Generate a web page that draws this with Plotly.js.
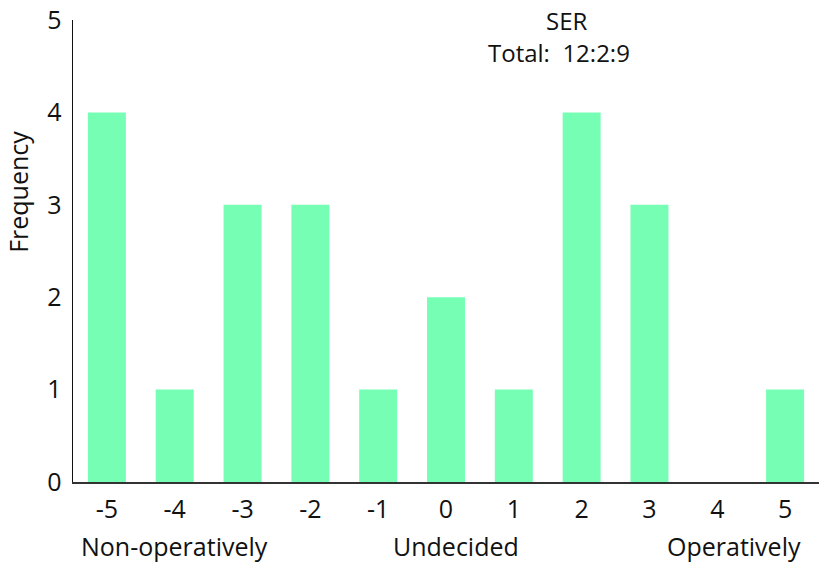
<!DOCTYPE html>
<html>
<head>
<meta charset="utf-8">
<script src="https://cdn.plot.ly/plotly-3.0.1.min.js"></script>
<style>html,body{margin:0;padding:0;background:#fff;}#chart{width:819px;height:564px;}</style>
</head>
<body>
<div id="chart"></div>
<script>
const scores = [-5, -4, -3, -2, -1, 0, 1, 2, 3, 4, 5];
const frequency = [4, 1, 3, 3, 1, 2, 1, 4, 3, 0, 1];
const tickLabels = ['-5', '-4', '-3', '-2', '-1', '0', '1', '2', '3', '4', '5'];
const groupLabels = ['Non-operatively', 'Undecided', 'Operatively'];
const groupPositions = [-4, 0.15, 4.25];
const titleText = 'SER';
const totalText = 'Total:  12:2:9';

const font = '"Open Sans", "DejaVu Sans", sans-serif';

const trace = {
  type: 'bar',
  x: scores,
  y: frequency,
  width: 0.56,
  marker: {color: 'rgb(118,255,180)', line: {width: 0}},
  hoverinfo: 'skip'
};

const annotations = [
  {x: 0.661, y: 1.0, xref: 'paper', yref: 'paper', text: titleText, showarrow: false,
   font: {family: font, size: 24, color: '#111'}, xanchor: 'center', yanchor: 'middle'},
  {x: 0.651, y: 0.929, xref: 'paper', yref: 'paper', text: totalText, showarrow: false,
   font: {family: font, size: 24, color: '#111'}, xanchor: 'center', yanchor: 'middle'},
  {x: -0.073, y: 0.627, xref: 'paper', yref: 'paper', text: 'Frequency', showarrow: false, textangle: -90,
   font: {family: font, size: 25, color: '#111'}, xanchor: 'center', yanchor: 'middle', borderpad: 0}
];
groupLabels.forEach((g, i) => {
  annotations.push({x: groupPositions[i], y: -0.138, xref: 'x', yref: 'paper', text: g, showarrow: false,
    font: {family: font, size: 25, color: '#111'}, xanchor: 'center', yanchor: 'middle', borderpad: 0});
});

const layout = {
  width: 819, height: 564,
  margin: {l: 73, r: 0, t: 19.5, b: 82},
  paper_bgcolor: '#fff', plot_bgcolor: '#fff',
  showlegend: false,
  font: {family: font, size: 24, color: '#111'},
  xaxis: {
    range: [-5.5, 5.5], tickmode: 'array', tickvals: scores, ticktext: tickLabels,
    showgrid: false, zeroline: false, showline: true, linecolor: '#333', linewidth: 2,
    ticks: '', ticklabelstandoff: 4, tickfont: {family: font, size: 25, color: '#111'}, fixedrange: true
  },
  yaxis: {
    range: [0, 5], tickmode: 'array', tickvals: [0, 1, 2, 3, 4, 5],
    showgrid: false, zeroline: false, showline: true, linecolor: '#111', linewidth: 1.5,
    ticks: '', ticklabelstandoff: 5, tickfont: {family: font, size: 25, color: '#111'}, fixedrange: true
  },
  annotations: annotations
};

Plotly.newPlot('chart', [trace], layout, {displayModeBar: false, staticPlot: true});
</script>
</body>
</html>
